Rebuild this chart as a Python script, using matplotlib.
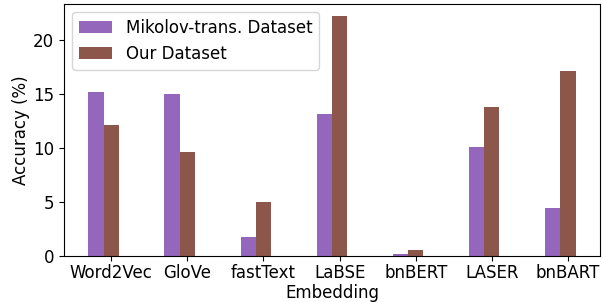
import numpy as np
import matplotlib
matplotlib.use('Agg')
import matplotlib.pyplot as plt

embeddings = ['Word2Vec', 'GloVe', 'fastText', 'LaBSE', 'bnBERT', 'LASER', 'bnBART']
mikolov_acc = [15.2, 15.0, 1.76, 13.15, 0.19, 10.1, 4.44]
our_acc = [12.13, 9.63, 5.0, 22.3, 0.56, 13.8, 17.13]

plt.rcParams['font.size'] = 12

fig, ax = plt.subplots(figsize=(6.03, 3.02), dpi=100)
fig.subplots_adjust(left=0.1061, right=0.995, top=0.988, bottom=0.152)

x = np.arange(len(embeddings))
w = 0.2
ax.bar(x - w, mikolov_acc, w, color='tab:purple', label='Mikolov-trans. Dataset')
ax.bar(x, our_acc, w, color='tab:brown', label='Our Dataset')

ax.set_xticks(x)
ax.set_xticklabels(embeddings)
ax.tick_params(axis='x', pad=2.5)
ax.set_xlabel('Embedding', labelpad=1)
ax.set_ylabel('Accuracy (%)', labelpad=2)
ax.legend(loc='upper left')

plt.savefig('out.png', dpi=100)
